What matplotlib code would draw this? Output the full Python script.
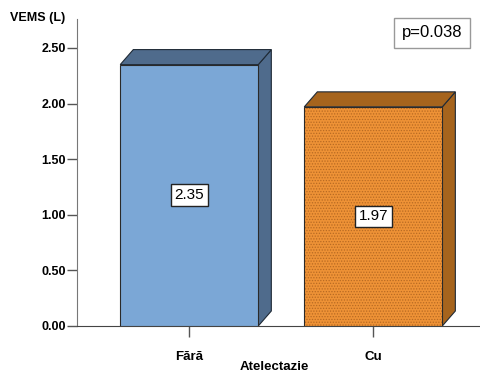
import matplotlib.pyplot as plt
from matplotlib.patches import Polygon
from matplotlib.colors import to_rgba

plt.rcParams["font.family"] = ["Liberation Sans", "DejaVu Sans"]
plt.rcParams["hatch.linewidth"] = 0.6

categories = ["Fără", "Cu"]
vems = [2.35, 1.97]
yticks = [0.0, 0.5, 1.0, 1.5, 2.0, 2.5]
p_text = "p=0.038"

front_colors = ["#7BA7D6", "#EE9236"]
shade_colors = ["#4F6B8C", "#A6641D"]
hatches = [None, "......"]
hatch_colors = [None, "#B86A22"]

bar_w = 0.75
dx, dy = 0.071, 0.135  # 3D depth offset in data units

fig = plt.figure(figsize=(4.8, 3.73), dpi=100)
ax = fig.add_axes([77 / 480, 47 / 373, 403 / 480, 307 / 373])
ax.set_xlim(-0.61, 1.58)
ax.set_ylim(0, 2.76)

for i, (v, fc, sc) in enumerate(zip(vems, front_colors, shade_colors)):
    x0, x1 = i - bar_w / 2, i + bar_w / 2
    # side and top faces
    side = Polygon([(x1, 0), (x1 + dx, dy), (x1 + dx, v + dy), (x1, v)],
                   facecolor=sc, edgecolor="#1f2a36", lw=0.8, zorder=2)
    top = Polygon([(x0, v), (x0 + dx, v + dy), (x1 + dx, v + dy), (x1, v)],
                  facecolor=sc, edgecolor="#1f2a36", lw=0.8, zorder=2)
    ax.add_patch(side)
    ax.add_patch(top)
    b = ax.bar(i, v, width=bar_w, color=fc, edgecolor="#2a2a2a", lw=0.8, zorder=3)
    if hatches[i]:
        b[0].set_hatch(hatches[i])
        b[0]._hatch_color = to_rgba(hatch_colors[i])
    ax.text(i, v / 2, f"{v:.2f}", ha="center", va="center", fontsize=11, zorder=5,
            bbox=dict(boxstyle="square,pad=0.25", fc="white", ec="#222222", lw=1))

ax.set_xticks(range(len(categories)))
ax.set_xticklabels(categories, fontsize=9.5, fontweight="bold")
ax.set_yticks(yticks)
ax.set_yticklabels([f"{t:.2f}" for t in yticks], fontsize=9, fontweight="bold")
ax.tick_params(axis="x", length=8, width=1, color="#555555", pad=10)
ax.tick_params(axis="y", length=7, width=1, color="#555555", pad=1)

for s in ["top", "right"]:
    ax.spines[s].set_visible(False)
ax.spines["left"].set_color("#777777")
ax.spines["bottom"].set_color("#444444")

fig.text(274 / 480, 1 - 367 / 373, "Atelectazie", fontsize=9.5, fontweight="bold",
         ha="center", va="center")
fig.text(10 / 480, 1 - 18 / 373, "VEMS (L)", fontsize=9, fontweight="bold", va="center")

fig.text(432 / 480, 1 - 33 / 373, p_text, fontsize=12, ha="center", va="center",
         bbox=dict(boxstyle="square,pad=0.45", fc="white", ec="#999999", lw=1))

fig.savefig("out.png", dpi=100)
